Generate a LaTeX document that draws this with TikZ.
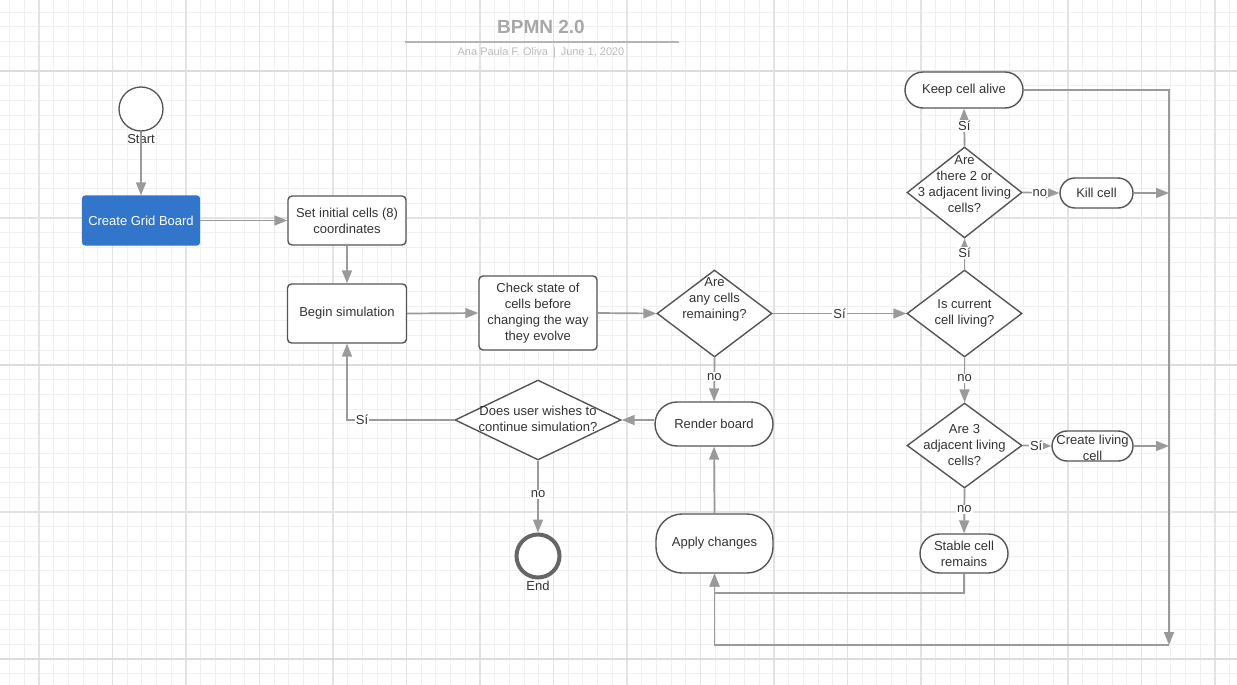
\documentclass[tikz,border=0pt]{standalone}
\usepackage{fontspec}
\setmainfont{Liberation Sans}
\usetikzlibrary{shapes.geometric,shapes.misc,arrows.meta}
\definecolor{txtc}{HTML}{333333}
\definecolor{bord}{HTML}{555555}
\definecolor{connc}{HTML}{9A9A9A}
\definecolor{blueC}{HTML}{3276CC}
\definecolor{endc}{HTML}{666666}
\definecolor{gminor}{HTML}{F0F0F0}
\definecolor{gmed}{HTML}{E3E3E3}
\definecolor{gmajor}{HTML}{DCDCDC}
\definecolor{titlec}{HTML}{A8A8A8}
\definecolor{titleline}{HTML}{B5B5B5}
\definecolor{subc}{HTML}{BBBBBB}
\begin{document}
\begin{tikzpicture}[x=1pt,y=-1pt,
  base/.style={font=\fontsize{13}{16}\selectfont, text=txtc, align=center, inner sep=0pt},
  box/.style={base, rectangle, draw=bord, line width=1.4pt, rounded corners=4pt, fill=white},
  pill/.style={base, rounded rectangle, draw=bord, line width=1.4pt, fill=white},
  dia/.style={base, diamond, draw=bord, line width=1.4pt, fill=white},
  conn/.style={draw=connc, line width=1.7pt, -{Triangle[length=13pt,width=10pt]}},
  lbl/.style={base, fill=white, inner sep=1pt}
]
\useasboundingbox (0,0) rectangle (1237,685);
\fill[white] (0,0) rectangle (1237,685);
% grid
\foreach \k in {-2,...,81} \draw[gminor, line width=1pt] ({39+14.7*\k},0) -- ({39+14.7*\k},685);
\foreach \k in {-4,...,41} \draw[gminor, line width=1pt] (0,{71+14.7*\k}) -- (1237,{71+14.7*\k});
\foreach \k in {0,...,16} \draw[gmed, line width=1.1pt] ({39+73.5*\k},0) -- ({39+73.5*\k},685);
\foreach \y in {218,512} \draw[gmed, line width=1.1pt] (0,\y) -- (1237,\y);
\foreach \y in {71,365,659} \draw[gmajor, line width=2pt] (0,\y) -- (1237,\y);

% title
\node[font=\bfseries\fontsize{19}{22}\selectfont, text=titlec, inner sep=0pt] (title) at (541,27) {BPMN 2.0};
\draw[titleline, line width=2pt] (405,42) -- (679,42);
\node[font=\fontsize{11}{13}\selectfont, text=subc, inner sep=0pt] (sub) at (541,53) {Ana Paula F. Oliva \,|\, June 1, 2020};

% nodes
\node[circle, draw=bord, line width=1.3pt, minimum size=44pt, inner sep=0pt, fill=white] (start) at (141,109) {};
\node[base] (startl) at (141,139) {Start};
\node[box, fill=blueC, draw=blueC, text=white, minimum width=117pt, minimum height=49pt, rounded corners=3pt] (create) at (141,220.5) {Create Grid Board};
\node[box, minimum width=118pt, minimum height=49pt] (set) at (347,220.5) {Set initial cells (8)\\coordinates};
\node[box, minimum width=119pt, minimum height=59pt] (begin) at (347,313.5) {Begin simulation};
\node[box, minimum width=118pt, minimum height=74pt] (check) at (538,313) {Check state of\\cells before\\changing the way\\they evolve};
\node[dia, minimum width=115pt, minimum height=87pt] (any) at (714.5,313.5) {};
\node[base] (anyt) at ([yshift=14pt]any.center) {Are\\any cells\\remaining?};
\node[dia, minimum width=115pt, minimum height=87pt] (cur) at (964.5,313.5) {};
\node[base] (curt) at (cur.center) {Is current\\cell living?};
\node[dia, minimum width=166pt, minimum height=80pt] (cont) at (538,420) {};
\node[base] (contt) at ([yshift=1.5pt]cont.center) {Does user wishes to\\continue simulation?};
\node[pill, minimum width=118pt, minimum height=44pt] (render) at (714,424) {Render board};
\node[box, rounded corners=26pt, minimum width=117pt, minimum height=59pt] (apply) at (714.5,543.5) {Apply changes};
\node[circle, draw=endc, line width=4pt, minimum size=43pt, inner sep=0pt, fill=white] (end) at (538,556) {};
\node[base] (endl) at (538,586) {End};
\node[dia, minimum width=115pt, minimum height=91pt] (two) at (964.5,192.5) {};
\node[base] (twot) at ([yshift=8pt]two.center) {Are\\there 2 or\\3 adjacent living\\cells?};
\node[pill, minimum width=118pt, minimum height=36pt] (keep) at (964,90) {Keep cell alive};
\node[pill, minimum width=73pt, minimum height=30pt] (kill) at (1096.5,193) {Kill cell};
\node[dia, minimum width=115pt, minimum height=85pt] (three) at (964.5,445.5) {};
\node[base] (threet) at (three.center) {Are 3\\adjacent living\\cells?};
\node[pill, minimum width=81pt, minimum height=30pt] (cl) at (1092.5,446) {};
\node[base] (clt) at ([yshift=-2pt]cl.center) {Create living\\cell};
\node[pill, minimum width=88pt, minimum height=39pt] (stable) at (964,553.5) {Stable cell\\remains};
\coordinate (rb) at (1169,645);

% connectors
\draw[conn] (start.south) -- (start.south |- create.north);
\draw[conn] (create.east) -- (set.west);
\draw[conn] (set.south) -- (begin.north);
\draw[conn] (begin.east) -- (check.west);
\draw[conn] (check.east) -- (any.west);
\draw[conn] (any.east) -- node[lbl, pos=0.5] {Sí} (cur.west);
\draw[conn] (any.south) -- node[lbl, pos=0.44] {no} (render.north);
\draw[conn] (render.west |- cont.east) -- (cont.east);
\draw[conn] (cont.west) -| node[lbl, pos=0.43] {Sí} (begin.south);
\draw[conn] (cont.south) -- node[lbl, pos=0.47] {no} (end.north);
\draw[conn] (apply.north) -- (render.south);
\draw[conn] (cur.north) -- node[lbl, pos=0.53] {Sí} (two.south);
\draw[conn] (two.north) -- node[lbl, pos=0.54] {Sí} (keep.south);
\draw[conn] (two.east) -- node[lbl, pos=0.47] {no} (kill.west);
\draw[conn] (cur.south) -- node[lbl, pos=0.46] {no} (three.north);
\draw[conn] (three.east) -- node[lbl, pos=0.47] {Sí} (cl.west);
\draw[conn] (three.south) -- node[lbl, pos=0.46] {no} (stable.north);
\draw[conn] (keep.east) -| (rb);
\draw[conn] (kill.east) -- (kill.east -| rb);
\draw[conn] (cl.east) -- (cl.east -| rb);
\draw[conn] (rb) -| (apply.south);
\draw[conn] (stable.south) -- ++(0,19) -| (apply.south);
\end{tikzpicture}
\end{document}
